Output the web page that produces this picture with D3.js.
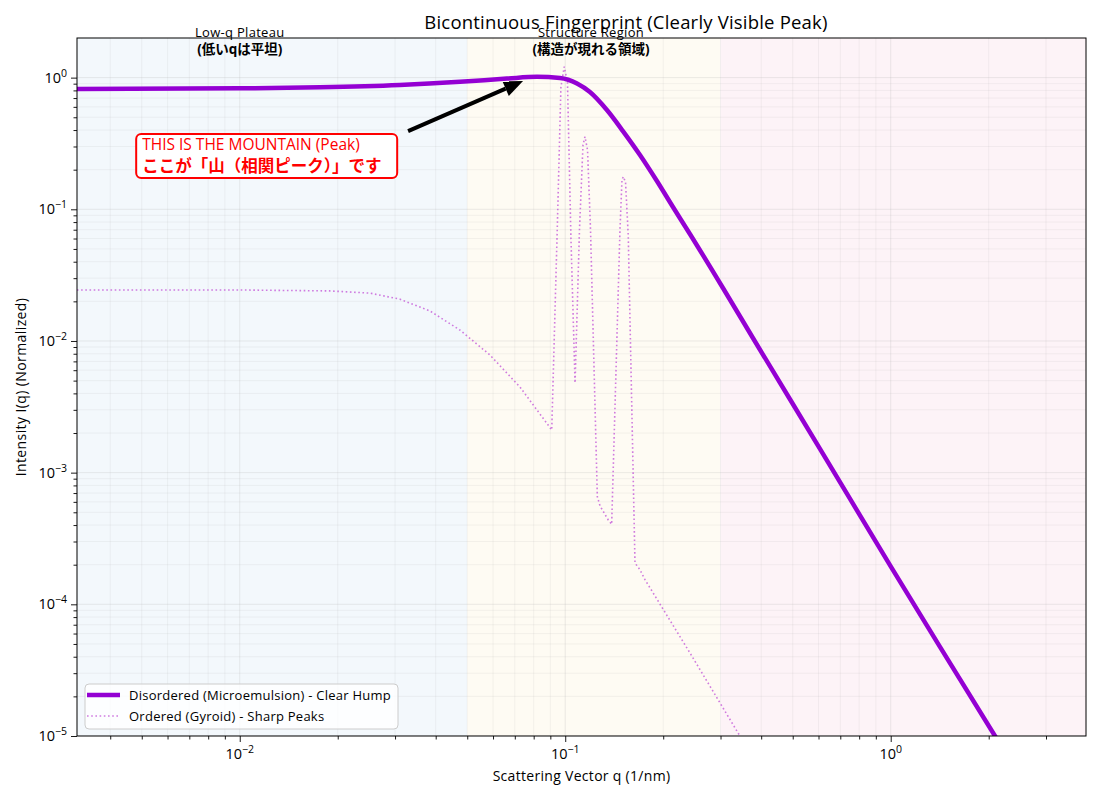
<!DOCTYPE html>
<html>
<head>
<meta charset="utf-8">
<script src="https://cdn.jsdelivr.net/npm/d3@7"></script>
<style>
  body { margin: 0; background: #fff; }
  svg { font-family: "Open Sans", "Noto Sans CJK JP", sans-serif; }
</style>
</head>
<body>
<svg id="chart" width="1100" height="800"></svg>
<script>
// disordered (microemulsion) curve
const qDisordered = [0.00316, 0.01, 0.01764, 0.031, 0.0475, 0.0662, 0.0819, 0.0964, 0.1087, 0.1191, 0.1343, 0.1504, 0.1697, 0.1913, 0.2143, 0.2416, 0.3052, 0.3773, 0.6063, 1.0, 1.417, 2.091, 3.98];
const iDisordered = [0.819, 0.829, 0.844, 0.879, 0.929, 0.983, 1.014, 0.993, 0.902, 0.777, 0.5675, 0.393, 0.2585, 0.164, 0.1041, 0.065, 0.02526, 0.01054, 0.001517, 0.000194, 0.0000475, 0.00001, 0.00000079];

// ordered (gyroid) curve
const qOrdered = [0.00316, 0.01, 0.0189, 0.0251, 0.031, 0.0384, 0.0475, 0.0587, 0.0726, 0.0909,
  0.0945, 0.0970, 0.0993, 0.1016, 0.1041, 0.1072,
  0.1106, 0.1134, 0.1150, 0.1171, 0.1196, 0.1255, 0.1279, 0.1356, 0.1389,
  0.1473, 0.1494, 0.1508, 0.1532, 0.1562, 0.1638, 0.1697, 0.1758, 0.2416, 0.3441, 0.45];
const iOrdered = [0.0244, 0.0244, 0.0240, 0.0231, 0.0208, 0.0169, 0.0121, 0.00783, 0.00447, 0.00211,
  0.0697, 0.849, 1.21, 0.926, 0.0619, 0.0048,
  0.0697, 0.308, 0.356, 0.282, 0.0697, 0.000657, 0.000559, 0.000437, 0.000406,
  0.0697, 0.167, 0.177, 0.161, 0.0627, 0.000206, 0.000183, 0.000154, 0.0000428, 0.00001, 0.0000033];

// shaded regions
const regionEdges = [0.05, 0.3];
const regionColors = ["#f3f8fc", "#fefbf3", "#fdf3f7"];

const xTickValues = [0.01, 0.1, 1];
const xTickExps = ["\u22122", "\u22121", "0"];
const yTickValues = [1, 0.1, 0.01, 0.001, 0.0001, 0.00001];
const yTickExps = ["0", "\u22121", "\u22122", "\u22123", "\u22124", "\u22125"];

const svg = d3.select("#chart");
const margin = { left: 77, right: 1086, top: 38, bottom: 736 };

const x = d3.scaleLog().domain([Math.pow(10, -2.5), Math.pow(10, 0.6)]).range([margin.left, margin.right]);
const y = d3.scaleLog().domain([1e-5, 2]).range([margin.bottom, margin.top]);

svg.append("defs").append("clipPath").attr("id", "plotClip")
  .append("rect")
    .attr("x", margin.left).attr("y", margin.top)
    .attr("width", margin.right - margin.left)
    .attr("height", margin.bottom - margin.top);

// shading
const bounds = [x.domain()[0], ...regionEdges, x.domain()[1]];
svg.append("g").selectAll("rect")
  .data(regionColors)
  .enter().append("rect")
    .attr("x", (d, i) => x(bounds[i]))
    .attr("width", (d, i) => x(bounds[i + 1]) - x(bounds[i]))
    .attr("y", margin.top)
    .attr("height", margin.bottom - margin.top)
    .style("fill", d => d);

// grid lines, major + minor
const minorVals = (lo, hi) => {
  const out = [];
  for (let e = lo; e <= hi; e++)
    for (let m = 2; m <= 9; m++) out.push(m * Math.pow(10, e));
  return out;
};
const xMinor = minorVals(-3, 0).filter(v => v > x.domain()[0] && v < x.domain()[1]);
const yMinor = minorVals(-5, 0).filter(v => v > y.domain()[0] && v < y.domain()[1]);

const grid = svg.append("g").attr("clip-path", "url(#plotClip)");
grid.selectAll(".gx").data(xMinor.concat(xTickValues)).enter().append("line")
  .attr("x1", d => x(d)).attr("x2", d => x(d))
  .attr("y1", margin.top).attr("y2", margin.bottom)
  .style("stroke", "#b0b0b0").style("stroke-width", 0.8)
  .style("stroke-opacity", d => xTickValues.includes(d) ? 0.3 : 0.18);
grid.selectAll(".gy").data(yMinor.concat(yTickValues)).enter().append("line")
  .attr("y1", d => y(d)).attr("y2", d => y(d))
  .attr("x1", margin.left).attr("x2", margin.right)
  .style("stroke", "#b0b0b0").style("stroke-width", 0.8)
  .style("stroke-opacity", d => yTickValues.includes(d) ? 0.3 : 0.18);

// curves
const plot = svg.append("g").attr("clip-path", "url(#plotClip)");

const disordered = qDisordered.map((q, i) => [q, iDisordered[i]]);
const ordered = qOrdered.map((q, i) => [q, iOrdered[i]]);

plot.append("path")
  .datum(ordered)
  .attr("d", d3.line().x(d => x(d[0])).y(d => y(d[1])))
  .style("fill", "none")
  .style("stroke", "#c45ad8")
  .style("stroke-opacity", 0.8)
  .style("stroke-width", 1.6)
  .style("stroke-dasharray", "1.6,2.6");

plot.append("path")
  .datum(disordered)
  .attr("d", d3.line().x(d => x(d[0])).y(d => y(d[1])).curve(d3.curveMonotoneX))
  .style("fill", "none")
  .style("stroke", "#9400d3")
  .style("stroke-width", 4.5)
  .style("stroke-linejoin", "round");

// axes
const xAxis = svg.append("g").attr("transform", `translate(0,${margin.bottom})`);
xAxis.call(d3.axisBottom(x).tickValues(xTickValues).tickSize(6).tickFormat(""));
xAxis.append("g").call(d3.axisBottom(x).tickValues(xMinor).tickSize(3.5).tickFormat(""));
xAxis.selectAll(".domain").remove();

const yAxis = svg.append("g").attr("transform", `translate(${margin.left},0)`);
yAxis.call(d3.axisLeft(y).tickValues(yTickValues).tickSize(6).tickFormat(""));
yAxis.append("g").call(d3.axisLeft(y).tickValues(yMinor).tickSize(3.5).tickFormat(""));
yAxis.selectAll(".domain").remove();
svg.selectAll(".tick line").style("stroke", "#000").style("stroke-width", 0.9);

svg.append("rect")
  .attr("x", margin.left).attr("y", margin.top)
  .attr("width", margin.right - margin.left).attr("height", margin.bottom - margin.top)
  .style("fill", "none").style("stroke", "#000").style("stroke-width", 1);

// tick labels 10^n
const xl = svg.append("g").selectAll("text").data(xTickValues).enter().append("text")
  .attr("x", d => x(d)).attr("y", margin.bottom + 23)
  .attr("text-anchor", "middle").style("font-size", "14.5px");
xl.append("tspan").text("10");
xl.append("tspan").attr("dy", -6).style("font-size", "10.5px").text((d, i) => xTickExps[i]);

const yl = svg.append("g").selectAll("text").data(yTickValues).enter().append("text")
  .attr("x", margin.left - 10).attr("y", d => y(d) + 5)
  .attr("text-anchor", "end").style("font-size", "14.5px");
yl.append("tspan").text("10");
yl.append("tspan").attr("dy", -6).style("font-size", "10.5px").text((d, i) => yTickExps[i]);

// axis titles
svg.append("text")
  .attr("x", (margin.left + margin.right) / 2).attr("y", 781)
  .attr("text-anchor", "middle").style("font-size", "14px").style("letter-spacing", "0.3px")
  .text("Scattering Vector q (1/nm)");
svg.append("text")
  .attr("transform", `translate(26,${(margin.top + margin.bottom) / 2})rotate(-90)`)
  .attr("text-anchor", "middle").style("font-size", "14px").style("letter-spacing", "0.4px")
  .text("Intensity I(q) (Normalized)");

// title
svg.append("text")
  .attr("x", 626).attr("y", 29)
  .attr("text-anchor", "middle").style("font-size", "18.5px").style("letter-spacing", "0.2px")
  .text("Bicontinuous Fingerprint (Clearly Visible Peak)");

// region labels
const regionLabels = [
  { q: 0.01, top: "Low-q Plateau", bottom: "(低いqは平坦)" },
  { q: 0.12, top: "Structure Region", bottom: "(構造が現れる領域)" }
];
regionLabels.forEach(r => {
  svg.append("text").attr("x", x(r.q)).attr("y", 37)
    .attr("text-anchor", "middle").style("font-size", "13px").style("letter-spacing", "0.3px").text(r.top);
  svg.append("text").attr("x", x(r.q)).attr("y", 54)
    .attr("text-anchor", "middle").style("font-size", "13.5px").style("font-weight", "bold").text(r.bottom);
});

// annotation arrow
const tail = [x(0.0329), y(0.393)], tip = [x(0.0742), y(0.942)];
const ang = Math.atan2(tip[1] - tail[1], tip[0] - tail[0]);
const headLen = 19, headW = 8;
const base = [tip[0] - headLen * Math.cos(ang), tip[1] - headLen * Math.sin(ang)];
svg.append("line")
  .attr("x1", tail[0]).attr("y1", tail[1]).attr("x2", base[0]).attr("y2", base[1])
  .style("stroke", "#000").style("stroke-width", 4);
svg.append("path")
  .attr("d", `M${tip[0]},${tip[1]}L${base[0] - headW * Math.sin(ang)},${base[1] + headW * Math.cos(ang)}L${base[0] + headW * Math.sin(ang)},${base[1] - headW * Math.cos(ang)}Z`)
  .style("fill", "#000");

// annotation box
const boxCx = x(0.0121), boxCy = y(0.254);
const boxW = 261, boxH = 44;
svg.append("rect")
  .attr("x", boxCx - boxW / 2).attr("y", boxCy - boxH / 2)
  .attr("width", boxW).attr("height", boxH).attr("rx", 5)
  .style("fill", "#fff").style("stroke", "#ff0000").style("stroke-width", 2);
svg.append("text")
  .attr("x", boxCx - boxW / 2 + 6).attr("y", boxCy - 6)
  .style("fill", "#ff0000").style("font-size", "15.5px")
  .text("THIS IS THE MOUNTAIN (Peak)");
svg.append("text")
  .attr("x", boxCx - boxW / 2 + 6).attr("y", boxCy + 16)
  .style("fill", "#ff0000").style("font-size", "16.5px").style("font-weight", "bold")
  .text("ここが「山（相関ピーク）」です");

// legend
const legend = svg.append("g").attr("transform", "translate(85,684)");
legend.append("rect")
  .attr("width", 313).attr("height", 45).attr("rx", 4)
  .style("fill", "#fff").style("fill-opacity", 0.8)
  .style("stroke", "#cccccc").style("stroke-width", 1);
const legendItems = [
  { label: "Disordered (Microemulsion) - Clear Hump", color: "#9400d3", width: 4.5, dash: null, opacity: 1 },
  { label: "Ordered (Gyroid) - Sharp Peaks", color: "#c45ad8", width: 1.6, dash: "1.6,2.6", opacity: 0.8 }
];
legendItems.forEach((d, i) => {
  const ly = 11 + i * 21;
  legend.append("line")
    .attr("x1", 2).attr("x2", 35).attr("y1", ly).attr("y2", ly)
    .style("stroke", d.color).style("stroke-width", d.width)
    .style("stroke-opacity", d.opacity)
    .style("stroke-dasharray", d.dash);
  legend.append("text")
    .attr("x", 44).attr("y", ly + 4.5)
    .style("font-size", "13px").style("letter-spacing", "0.25px")
    .text(d.label);
});
</script>
</body>
</html>
